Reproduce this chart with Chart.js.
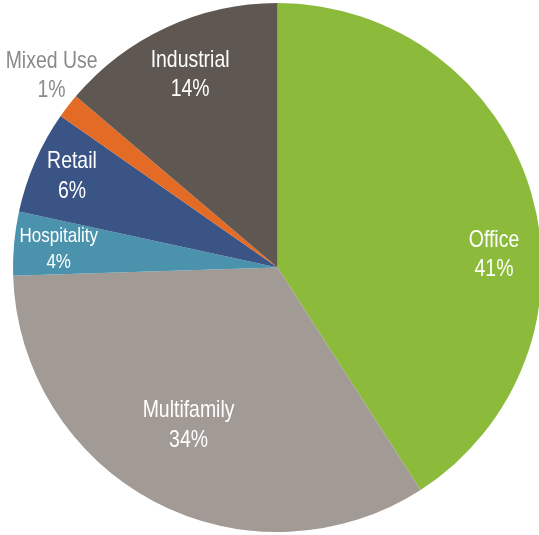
<!DOCTYPE html>
<html>
<head>
<meta charset="utf-8">
<script src="https://cdn.jsdelivr.net/npm/chart.js@4.4.0/dist/chart.umd.min.js"></script>
<style>
  html, body { margin: 0; padding: 0; background: #fff; overflow: hidden; }
  #wrap { position: absolute; left: 0; top: 0; width: 545px; height: 535px; }
</style>
</head>
<body>
<div id="wrap"><canvas id="pieChart"></canvas></div>
<script>
// slice data, clockwise from 12 o'clock
var categories = ['Office', 'Multifamily', 'Hospitality', 'Retail', 'Mixed Use', 'Industrial']
var shares = [40.9, 33.6, 3.9, 6.3, 1.5, 13.8]
var pctLabels = ['41%', '34%', '4%', '6%', '1%', '14%']
var colors = ['#8cbb3c', '#a29a95', '#4b93ad', '#3a5485', '#e46b25', '#5f5751']

// where each label sits: angle clockwise from top (deg), distance as part of radius
var labelPos = [
    { angle: 86.6, r: 0.82, size: 24, color: '#ffffff' },
    { angle: 209.4, r: 0.685, size: 24, color: '#ffffff' },
    { angle: 274.7, r: 0.83, size: 21, color: '#ffffff' },
    { angle: 293.9, r: 0.85, size: 24, color: '#ffffff' },
    { angle: 310.3, r: 1.12, size: 24, color: '#8a8a8a' },
    { angle: 335.6, r: 0.80, size: 24, color: '#ffffff' }
]

// the original uses a condensed face, so squeeze a regular one
var squeeze = 0.81

const sliceLabels = {
    id: 'sliceLabels',
    afterDatasetsDraw(chart) {
        const ctx = chart.ctx
        const arc = chart.getDatasetMeta(0).data[0]
        const cx = arc.x, cy = arc.y, rad = arc.outerRadius
        categories.forEach((name, i) => {
            const p = labelPos[i]
            const a = p.angle * Math.PI / 180
            const x = cx + Math.sin(a) * rad * p.r
            const y = cy - Math.cos(a) * rad * p.r
            const lh = p.size * 1.22
            ctx.save()
            ctx.translate(x, y)
            ctx.scale(squeeze, 1)
            ctx.textAlign = 'center'
            ctx.textBaseline = 'middle'
            ctx.fillStyle = p.color
            ctx.font = p.size + 'px "Liberation Sans", Arial, sans-serif'
            ctx.fillText(name, 0, -lh / 2)
            ctx.fillText(pctLabels[i], 0, lh / 2)
            ctx.restore()
        })
    }
}

const ctx = document.getElementById('pieChart').getContext('2d')
const pieChart = new Chart(ctx, {
    type: 'pie',
    data: {
        labels: categories,
        datasets: [{
            data: shares,
            backgroundColor: colors,
            borderWidth: 0,
            hoverOffset: 0
        }]
    },
    options: {
        responsive: true,
        maintainAspectRatio: false,
        animation: false,
        layout: { padding: { left: 13, right: 3, top: 3, bottom: 3 } },
        plugins: {
            legend: { display: false },
            tooltip: { enabled: false }
        }
    },
    plugins: [sliceLabels]
})
</script>
</body>
</html>
